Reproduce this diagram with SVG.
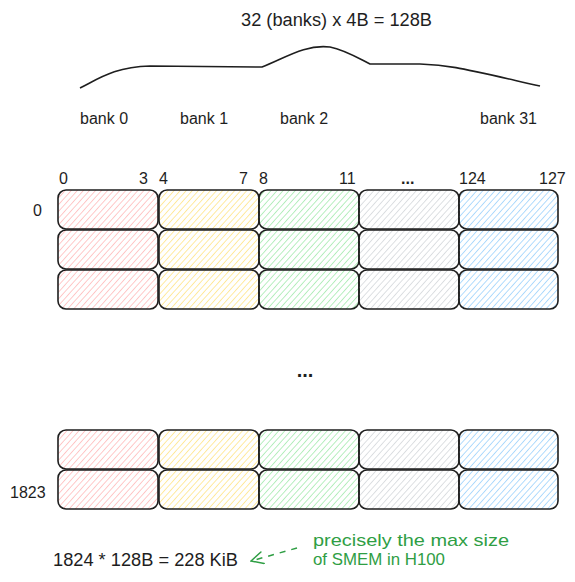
<svg xmlns="http://www.w3.org/2000/svg" width="575" height="582" viewBox="0 0 575 582">
<defs>
<pattern id="hR" width="4.5" height="4.5" patternUnits="userSpaceOnUse" patternTransform="rotate(42)"><line x1="0" y1="0" x2="0" y2="4.5" stroke="#ffb3b3" stroke-width="1.4"/></pattern>
<pattern id="hY" width="4.5" height="4.5" patternUnits="userSpaceOnUse" patternTransform="rotate(42)"><line x1="0" y1="0" x2="0" y2="4.5" stroke="#ffe27a" stroke-width="1.4"/></pattern>
<pattern id="hG" width="4.5" height="4.5" patternUnits="userSpaceOnUse" patternTransform="rotate(42)"><line x1="0" y1="0" x2="0" y2="4.5" stroke="#9be8a6" stroke-width="1.4"/></pattern>
<pattern id="hN" width="4.5" height="4.5" patternUnits="userSpaceOnUse" patternTransform="rotate(42)"><line x1="0" y1="0" x2="0" y2="4.5" stroke="#cfd3d7" stroke-width="1.4"/></pattern>
<pattern id="hB" width="4.5" height="4.5" patternUnits="userSpaceOnUse" patternTransform="rotate(42)"><line x1="0" y1="0" x2="0" y2="4.5" stroke="#92cdfb" stroke-width="1.4"/></pattern>
<marker id="arr" viewBox="0 0 14 14" refX="13" refY="7" markerWidth="14" markerHeight="14" markerUnits="userSpaceOnUse" orient="auto"><path d="M1,1 L13,7 L1,13" fill="none" stroke="#2f9e44" stroke-width="1.5" stroke-linecap="round"/></marker>
</defs>
<style>
.c{stroke:#1e1e1e;stroke-width:1.6;}
.t{font-family:"Liberation Sans",Arial,sans-serif;fill:#1e1e1e;}
.s16{font-size:16px;}
.s18{font-size:18px;}
.g{fill:#2f9e44;font-size:17px;font-family:"Liberation Sans",Arial,sans-serif;}
</style>
<rect width="575" height="582" fill="#ffffff"/>

<g id="title"><text class="t s18" x="241" y="26" textLength="191" lengthAdjust="spacingAndGlyphs">32 (banks) x 4B = 128B</text></g>

<g id="connectors" fill="none">
<path id="brace" d="M80,88 C100,78 115,67 150,66 L262,67 C285,58 305,44 330,47 C345,50 358,58 370,64 L420,64 C450,65 460,68 540,86" stroke="#1e1e1e" stroke-width="1.6"/>
<path id="arrow" d="M297,548 L251,561" stroke="#2f9e44" stroke-width="1.5" stroke-dasharray="6,6" marker-end="url(#arr)"/>
</g>

<g id="bank-labels">
<text class="t s16" x="80" y="124">bank 0</text>
<text class="t s16" x="180" y="124">bank 1</text>
<text class="t s16" x="280" y="124">bank 2</text>
<text class="t s16" x="480" y="124">bank 31</text>
</g>

<g id="byte-labels">
<text class="t s16" x="59" y="184">0</text>
<text class="t s16" x="139" y="184">3</text>
<text class="t s16" x="159" y="184">4</text>
<text class="t s16" x="239" y="184">7</text>
<text class="t s16" x="259" y="184">8</text>
<text class="t s16" x="339" y="184">11</text>
<text class="t s16" x="401" y="184" font-weight="bold">...</text>
<text class="t s16" x="459" y="184">124</text>
<text class="t s16" x="539" y="184">127</text>
</g>

<g id="row-labels">
<text class="t s16" x="33" y="216">0</text>
<text class="t s16" x="10" y="498">1823</text>
</g>

<g id="r0">
<g id="r0c0"><rect class="c" x="58" y="190" width="100" height="39" rx="8" fill="url(#hR)"/></g>
<g id="r0c1"><rect class="c" x="159" y="190" width="100" height="39" rx="8" fill="url(#hY)"/></g>
<g id="r0c2"><rect class="c" x="259" y="190" width="100" height="39" rx="8" fill="url(#hG)"/></g>
<g id="r0c3"><rect class="c" x="359" y="190" width="100" height="39" rx="8" fill="url(#hN)"/></g>
<g id="r0c4"><rect class="c" x="459" y="190" width="99" height="39" rx="8" fill="url(#hB)"/></g>
</g>
<g id="r1">
<g id="r1c0"><rect class="c" x="58" y="230" width="100" height="39" rx="8" fill="url(#hR)"/></g>
<g id="r1c1"><rect class="c" x="159" y="230" width="100" height="39" rx="8" fill="url(#hY)"/></g>
<g id="r1c2"><rect class="c" x="259" y="230" width="100" height="39" rx="8" fill="url(#hG)"/></g>
<g id="r1c3"><rect class="c" x="359" y="230" width="100" height="39" rx="8" fill="url(#hN)"/></g>
<g id="r1c4"><rect class="c" x="459" y="230" width="99" height="39" rx="8" fill="url(#hB)"/></g>
</g>
<g id="r2">
<g id="r2c0"><rect class="c" x="58" y="270" width="100" height="39" rx="8" fill="url(#hR)"/></g>
<g id="r2c1"><rect class="c" x="159" y="270" width="100" height="39" rx="8" fill="url(#hY)"/></g>
<g id="r2c2"><rect class="c" x="259" y="270" width="100" height="39" rx="8" fill="url(#hG)"/></g>
<g id="r2c3"><rect class="c" x="359" y="270" width="100" height="39" rx="8" fill="url(#hN)"/></g>
<g id="r2c4"><rect class="c" x="459" y="270" width="99" height="39" rx="8" fill="url(#hB)"/></g>
</g>

<g id="ellipsis"><text class="t" x="305" y="377" font-size="20" font-weight="bold" text-anchor="middle">...</text></g>

<g id="r1822">
<g id="r1822c0"><rect class="c" x="58" y="430" width="100" height="39" rx="8" fill="url(#hR)"/></g>
<g id="r1822c1"><rect class="c" x="159" y="430" width="100" height="39" rx="8" fill="url(#hY)"/></g>
<g id="r1822c2"><rect class="c" x="259" y="430" width="100" height="39" rx="8" fill="url(#hG)"/></g>
<g id="r1822c3"><rect class="c" x="359" y="430" width="100" height="39" rx="8" fill="url(#hN)"/></g>
<g id="r1822c4"><rect class="c" x="459" y="430" width="99" height="39" rx="8" fill="url(#hB)"/></g>
</g>
<g id="r1823">
<g id="r1823c0"><rect class="c" x="58" y="470" width="100" height="39" rx="8" fill="url(#hR)"/></g>
<g id="r1823c1"><rect class="c" x="159" y="470" width="100" height="39" rx="8" fill="url(#hY)"/></g>
<g id="r1823c2"><rect class="c" x="259" y="470" width="100" height="39" rx="8" fill="url(#hG)"/></g>
<g id="r1823c3"><rect class="c" x="359" y="470" width="100" height="39" rx="8" fill="url(#hN)"/></g>
<g id="r1823c4"><rect class="c" x="459" y="470" width="99" height="39" rx="8" fill="url(#hB)"/></g>
</g>

<g id="total"><text class="t s18" x="53" y="566" textLength="185" lengthAdjust="spacingAndGlyphs">1824 * 128B = 228 KiB</text></g>

<g id="note">
<text class="g" x="313" y="546" textLength="196" lengthAdjust="spacingAndGlyphs">precisely the max size</text>
<text class="g" x="313" y="565" textLength="132" lengthAdjust="spacingAndGlyphs">of SMEM in H100</text>
</g>
</svg>
